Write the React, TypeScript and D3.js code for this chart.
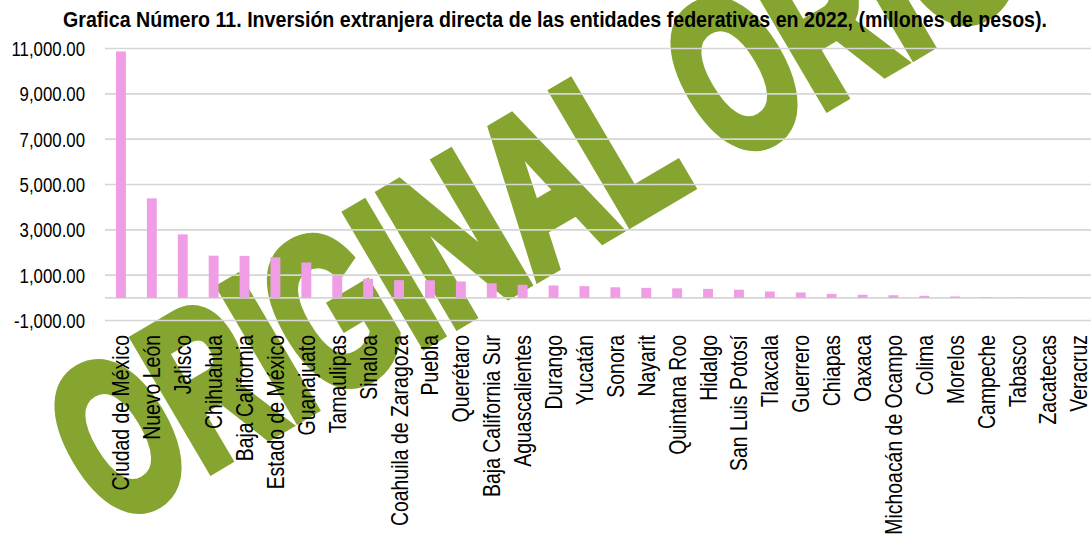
import React from "react";
import * as d3 from "d3";

const categories = [
  "Ciudad de México", "Nuevo León", "Jalisco", "Chihuahua", "Baja California",
  "Estado de México", "Guanajuato", "Tamaulipas", "Sinaloa", "Coahuila de Zaragoza",
  "Puebla", "Querétaro", "Baja California Sur", "Aguascalientes", "Durango",
  "Yucatán", "Sonora", "Nayarit", "Quintana Roo", "Hidalgo", "San Luis Potosí",
  "Tlaxcala", "Guerrero", "Chiapas", "Oaxaca", "Michoacán de Ocampo", "Colima",
  "Morelos", "Campeche", "Tabasco", "Zacatecas", "Veracruz",
];
const values = [
  10870, 4390, 2800, 1860, 1850, 1790, 1560, 985, 840, 780,
  775, 720, 645, 575, 545, 515, 465, 440, 420, 395, 360,
  280, 235, 175, 135, 115, 90, 60, 25, 8, 5, 3,
];
const tickValues = [-1000, 1000, 3000, 5000, 7000, 9000, 11000];
const title = "Grafica Número 11. Inversión extranjera directa de las entidades federativas en 2022, (millones de pesos).";
const watermark = "ORIGINAL ORIGINAL";

const W = 1091;
const H = 539;

const locale = d3.formatLocale({ decimal: ".", thousands: ",", grouping: [3], currency: ["$", ""], minus: "-" });
const fmt = locale.format(",.2f");

export default function App() {
  const x = d3.scaleBand<string>().domain(categories).range([105.5, 105.5 + 32 * 30.9]).paddingInner(0.68).paddingOuter(0.34);
  const y = d3.scaleLinear().domain([-1000, 11000]).range([320.5, 48.5]);
  const font = "'Liberation Sans', Arial, sans-serif";
  const gridYs = [...tickValues, 0];
  return (
    <svg width={W} height={H} style={{ position: "absolute", left: 0, top: 0, background: "#fff" }}>
      <rect x={0} y={0} width={W} height={H} fill="#fff" />
      <text transform="translate(109.7,528.3) rotate(-30.5) scale(0.64,1)" fontFamily={font}
        fontWeight="bold" fontSize={217} fill="#85A530" stroke="#85A530" strokeWidth={12}
        strokeLinejoin="miter">{watermark}</text>
      {gridYs.map((t) => (
        <line key={t} x1={105} x2={W} y1={y(t)} y2={y(t)} stroke="#D6D6D6" strokeWidth={1.6} />
      ))}
      {categories.map((c, i) => (
        <rect key={c} x={x(c)} width={x.bandwidth()} y={y(Math.max(0, values[i]))}
          height={Math.abs(y(values[i]) - y(0))} fill="#EF9DE4" />
      ))}
      {tickValues.map((t) => (
        <text key={t} transform={`translate(85,${y(t)}) scale(0.82,1)`} textAnchor="end" dy="0.36em"
          fontFamily={font} fontSize={20.5} fill="#000">{fmt(t)}</text>
      ))}
      {categories.map((c) => (
        <text key={c} transform={`translate(${x(c)! + x.bandwidth() / 2},335) rotate(-90) scale(0.82,1)`}
          textAnchor="end" dy="0.36em" fontFamily={font} fontSize={23.7} fill="#000">{c}</text>
      ))}
      <text x={63} y={27} textLength={984} lengthAdjust="spacingAndGlyphs" fontFamily={font}
        fontWeight="bold" fontSize={22} fill="#000">{title}</text>
    </svg>
  );
}
